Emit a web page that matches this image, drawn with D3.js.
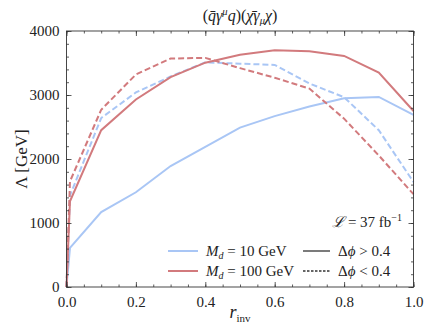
<!DOCTYPE html>
<html>
<head>
<meta charset="utf-8">
<script src="https://cdn.jsdelivr.net/npm/d3@7"></script>
<style>
  body { margin: 0; background: #fff; }
</style>
</head>
<body>
<svg id="chart"></svg>
<script>
// r_inv sample points
const rinv = [0, 0.01, 0.1, 0.2, 0.3, 0.4, 0.5, 0.6, 0.7, 0.8, 0.9, 1.0];
// Lambda limits [GeV]
const md10High  = [0, 610, 1170, 1480, 1890, 2190, 2490, 2670, 2820, 2950, 2970, 2690];
const md10Low   = [0, 1430, 2640, 3040, 3290, 3510, 3490, 3470, 3180, 2965, 2450, 1640];
const md100High = [0, 1340, 2450, 2930, 3280, 3505, 3630, 3700, 3685, 3610, 3350, 2750];
const md100Low  = [0, 1650, 2770, 3320, 3570, 3580, 3420, 3270, 3100, 2630, 2055, 1450];
const xTicks = [0, 0.2, 0.4, 0.6, 0.8, 1.0];
const yTicks = [0, 1000, 2000, 3000, 4000];

const width = 431, height = 335;
const margin = { top: 31, right: 17.5, bottom: 48, left: 66.5 };
const blue = '#a9c6f5', red = '#d27a7d';
const serif = 'Liberation Serif';

const svg = d3.select('#chart').attr('width', width).attr('height', height);

const x = d3.scaleLinear().domain([0, 1]).range([margin.left, width - margin.right]);
const y = d3.scaleLinear().domain([0, 4000]).range([height - margin.bottom, margin.top]);

const series = [
  { vals: md10High, color: blue, dash: null },
  { vals: md10Low, color: blue, dash: '6,3' },
  { vals: md100High, color: red, dash: null },
  { vals: md100Low, color: red, dash: '6,3' }
];

const line = d3.line().x(d => x(d[0])).y(d => y(d[1]));

svg.append('g').selectAll('path')
  .data(series)
  .enter().append('path')
  .attr('d', s => line(rinv.map((r, i) => [r, s.vals[i]])))
  .attr('fill', 'none')
  .attr('stroke', s => s.color)
  .attr('stroke-width', 2)
  .attr('stroke-dasharray', s => s.dash);

// axes: inward ticks on all four sides
const xMinor = d3.range(0, 1.0001, 0.05);
const yMinor = d3.range(0, 4001, 200);
const x0 = x.range()[0], x1 = x.range()[1], y0 = y.range()[0], y1 = y.range()[1];

function styleAxis(g) {
  g.attr('font-family', serif);
  g.select('.domain').remove();
  g.selectAll('line').attr('stroke', '#333').attr('stroke-width', 0.8);
  g.selectAll('text').attr('font-family', serif).attr('font-size', 15).attr('fill', '#222');
}

svg.append('g').attr('transform', `translate(0,${y0})`)
  .call(d3.axisBottom(x).tickValues(xMinor).tickSize(-2.5).tickFormat(''))
  .call(styleAxis);
svg.append('g').attr('transform', `translate(0,${y0})`)
  .call(d3.axisBottom(x).tickValues(xTicks).tickSize(-5).tickPadding(9).tickFormat(d3.format('.1f')))
  .call(styleAxis);
svg.append('g').attr('transform', `translate(0,${y1})`)
  .call(d3.axisTop(x).tickValues(xMinor).tickSize(-2.5).tickFormat(''))
  .call(styleAxis);
svg.append('g').attr('transform', `translate(0,${y1})`)
  .call(d3.axisTop(x).tickValues(xTicks).tickSize(-5).tickFormat(''))
  .call(styleAxis);

svg.append('g').attr('transform', `translate(${x0},0)`)
  .call(d3.axisLeft(y).tickValues(yMinor).tickSize(-2.5).tickFormat(''))
  .call(styleAxis);
svg.append('g').attr('transform', `translate(${x0},0)`)
  .call(d3.axisLeft(y).tickValues(yTicks).tickSize(-5).tickPadding(7).tickFormat(d3.format('d')))
  .call(styleAxis);
svg.append('g').attr('transform', `translate(${x1},0)`)
  .call(d3.axisRight(y).tickValues(yMinor).tickSize(-2.5).tickFormat(''))
  .call(styleAxis);
svg.append('g').attr('transform', `translate(${x1},0)`)
  .call(d3.axisRight(y).tickValues(yTicks).tickSize(-5).tickFormat(''))
  .call(styleAxis);

svg.append('rect')
  .attr('x', x0).attr('y', y1)
  .attr('width', x1 - x0).attr('height', y0 - y1)
  .attr('fill', 'none').attr('stroke', '#333').attr('stroke-width', 0.9);

function addText(sel) {
  return sel.append('text').attr('font-family', serif).attr('fill', '#222');
}

// title
const title = addText(svg)
  .attr('x', (x0 + x1) / 2).attr('y', 21)
  .attr('text-anchor', 'middle').attr('font-size', 16);
title.append('tspan').text('(');
title.append('tspan').attr('font-style', 'italic').text('q\u0304\u03b3');
title.append('tspan').attr('font-style', 'italic').attr('font-size', 10.5).attr('dy', -6).text('\u03bc');
title.append('tspan').attr('font-style', 'italic').attr('dy', 6).text('q');
title.append('tspan').text(')(');
title.append('tspan').attr('font-style', 'italic').text('\u03c7\u0304\u03b3');
title.append('tspan').attr('font-style', 'italic').attr('font-size', 10.5).attr('dy', 3).text('\u03bc');
title.append('tspan').attr('font-style', 'italic').attr('dy', -3).text('\u03c7');
title.append('tspan').text(')');

// axis labels
const xl = addText(svg)
  .attr('x', (x0 + x1) / 2).attr('y', 318)
  .attr('text-anchor', 'middle').attr('font-size', 18);
xl.append('tspan').attr('font-style', 'italic').text('r');
xl.append('tspan').attr('font-size', 11).attr('dy', 4).text('inv');

addText(svg)
  .attr('transform', `translate(27,${(y0 + y1) / 2}) rotate(-90)`)
  .attr('text-anchor', 'middle').attr('font-size', 17)
  .text('\u039b [GeV]');

// luminosity
const lum = addText(svg)
  .attr('x', 402).attr('y', 227)
  .attr('text-anchor', 'end').attr('font-size', 15);
lum.append('tspan').attr('font-style', 'italic').text('\u2112');
lum.append('tspan').text(' = 37 fb');
lum.append('tspan').attr('font-size', 10).attr('dy', -6).text('\u22121');

// legend
const legendItems = [
  { color: blue, dash: null, label: '10 GeV', x: 168, y: 251, kind: 'md' },
  { color: red, dash: null, label: '100 GeV', x: 168, y: 271, kind: 'md' },
  { color: '#333', dash: null, label: '>', x: 303, y: 251, kind: 'dphi' },
  { color: '#333', dash: '2.5,1.5', label: '<', x: 303, y: 271, kind: 'dphi' }
];
const lg = svg.append('g');
legendItems.forEach(it => {
  const w = it.kind === 'md' ? 30 : 27;
  lg.append('line')
    .attr('x1', it.x).attr('x2', it.x + w)
    .attr('y1', it.y).attr('y2', it.y)
    .attr('stroke', it.color)
    .attr('stroke-width', it.kind === 'md' ? 2 : 1.3)
    .attr('stroke-dasharray', it.dash);
  const t = addText(lg)
    .attr('x', it.x + w + 8).attr('y', it.y + 5)
    .attr('font-size', 15);
  if (it.kind === 'md') {
    t.append('tspan').attr('font-style', 'italic').text('M');
    t.append('tspan').attr('font-style', 'italic').attr('font-size', 10).attr('dy', 3).text('d');
    t.append('tspan').attr('dy', -3).text(' = ' + it.label);
  } else {
    t.append('tspan').text('\u0394');
    t.append('tspan').attr('font-style', 'italic').text('\u03d5');
    t.append('tspan').text(' ' + it.label + ' 0.4');
  }
});
</script>
</body>
</html>
